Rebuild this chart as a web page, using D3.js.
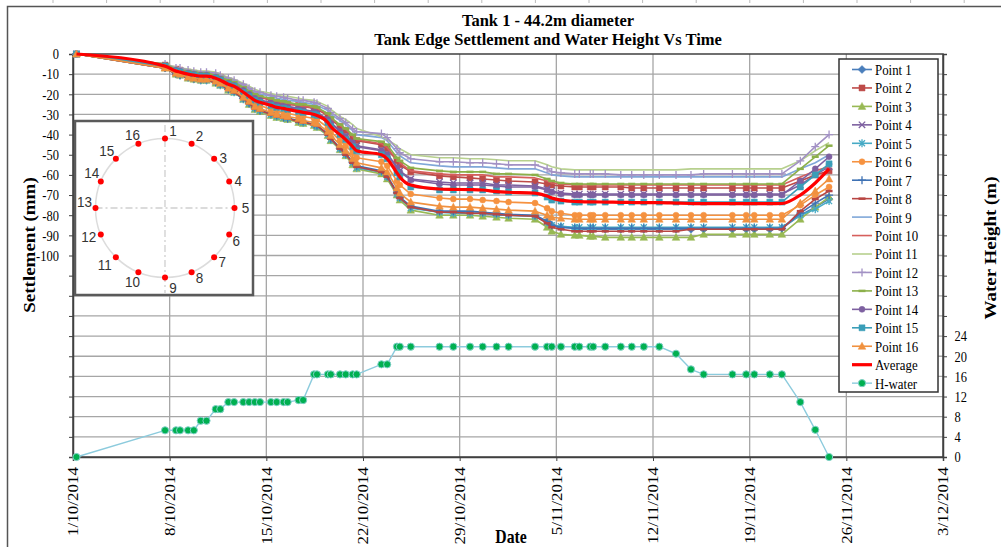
<!DOCTYPE html>
<html>
<head>
<meta charset="utf-8">
<script src="https://cdn.jsdelivr.net/npm/d3@7"></script>
<style>
  body { margin: 0; background: #fff; }
  svg { display: block; }
</style>
</head>
<body>
<svg id="chart" width="1001" height="547"></svg>
<script>
// ---- Survey readings ----
const readingTimes = [
  "2014-10-01 06:00","2014-10-07 16:00","2014-10-08 11:00","2014-10-08 18:00","2014-10-09 08:00",
  "2014-10-09 18:00","2014-10-10 06:00","2014-10-10 16:00","2014-10-11 08:00","2014-10-11 16:00",
  "2014-10-12 06:00","2014-10-12 16:00","2014-10-13 08:00","2014-10-13 18:00","2014-10-14 04:00",
  "2014-10-14 13:00","2014-10-15 08:00","2014-10-15 18:00","2014-10-16 06:00","2014-10-16 13:00",
  "2014-10-17 08:00","2014-10-17 16:00","2014-10-18 11:00","2014-10-18 16:00","2014-10-19 11:00",
  "2014-10-19 16:00","2014-10-20 08:00","2014-10-20 18:00","2014-10-21 06:00","2014-10-21 13:00",
  "2014-10-23 08:00","2014-10-23 18:00","2014-10-24 11:00","2014-10-24 16:00","2014-10-25 11:00",
  "2014-10-27 13:00","2014-10-28 13:00","2014-10-29 18:00","2014-10-30 16:00","2014-10-31 16:00",
  "2014-11-01 13:00","2014-11-03 11:00","2014-11-04 08:00","2014-11-04 16:00","2014-11-05 08:00",
  "2014-11-06 08:00","2014-11-06 16:00","2014-11-07 11:00","2014-11-07 16:00","2014-11-08 13:00",
  "2014-11-09 16:00","2014-11-10 11:00","2014-11-11 08:00","2014-11-12 11:00","2014-11-13 16:00",
  "2014-11-14 18:00","2014-11-15 16:00","2014-11-17 18:00","2014-11-18 18:00","2014-11-19 08:00",
  "2014-11-20 11:00","2014-11-21 08:00","2014-11-22 16:00","2014-11-23 18:00","2014-11-24 18:00"
];

// Water height in the tank (m)
const waterHeight = [
  0, 5.3, 5.3, 5.3, 5.3, 5.3, 7.2, 7.2, 9.5, 9.5,
  10.9, 10.9, 10.9, 10.9, 10.9, 10.9, 10.9, 10.9, 10.9, 10.9,
  11.3, 11.3, 16.4, 16.4, 16.4, 16.4, 16.4, 16.4, 16.4, 16.4,
  18.4, 18.4, 21.9, 21.9, 21.9, 21.9, 21.9, 21.9, 21.9, 21.9,
  21.9, 21.9, 21.9, 21.9, 21.9, 21.9, 21.9, 21.9, 21.9, 21.9,
  21.9, 21.9, 21.9, 21.9, 20.5, 17.4, 16.4, 16.4, 16.4, 16.4,
  16.4, 16.4, 10.9, 5.4, 0
];

// Edge settlement at each survey point (mm)
const point1 = [0,-7,-10,-10.5,-11.5,-12.5,-13,-13,-14,-15,-17.5,-18.5,-22,-24.5,-27,-28,-30,-31,-31.5,-32,-33.5,-34,-35,-35.5,-40,-42,-47,-50,-54,-56,-58.5,-61,-69,-71.5,-76,-78.5,-78.5,-79,-79,-80,-80,-80.5,
  -83,-85,-86,
  -86.5,-87,-87,-87,-87,-87,-87,-87,-87,-87,-87,-87,-87,-87,-87,-87,-86.5,
  -80,-76,-72];
const point2 = [0,-5.5,-7.5,-8,-9,-9.5,-10,-10,-11,-11.5,-13.5,-14.5,-17,-19,-20.5,-21.5,-23,-24,-24.5,-25,-25.5,-26,-27,-27.5,-30.5,-32.5,-36,-38,-41.5,-43,-45,-47,-53,-55,-58.5,-60.5,-61,-61.5,-62,-62.5,-63,-63.5,
  -64.5,-65,-65.5,
  -66,-66,-66,-66,-66,-66,-66.5,-66.5,-66.5,-66.5,-66.5,-66.5,-66.5,-66.5,-66.5,-66.5,-66.5,
  -63,-60,-58];
const point3 = [0,-7,-10,-10.5,-12,-12.5,-13,-13,-14.5,-15.5,-18,-19,-22.5,-25,-27.5,-28.5,-30.5,-31.5,-32,-32.5,-34,-34.5,-35.5,-36.5,-40.5,-43,-47.5,-50.5,-55,-57,-59.5,-62,-70,-72.5,-77.5,-80,-80,-80,-80.5,-81,-81.5,-82,
  -86,-88,-89.5,
  -90,-90,-90.5,-90.5,-91,-91,-91,-91,-91,-91,-91,-89.5,-89.5,-89.5,-89.5,-89.5,-89.5,
  -82,-76,-71];
const point4 = [0,-6,-8,-8.5,-9.5,-10,-10.5,-10.5,-11.5,-12.5,-14,-15,-18,-20,-22,-23,-24,-25,-25.5,-26,-27,-27.5,-28.5,-29,-32.5,-34,-38,-40.5,-43.5,-45.5,-47.5,-49.5,-56,-58,-62,-63.5,-64,-64,-64,-65,-65,-65.5,
  -67,-68,-69,
  -69.5,-69.5,-69.5,-69.5,-69.5,-69.5,-69.5,-69.5,-69.5,-69.5,-69.5,-69.5,-69.5,-69.5,-69.5,-69.5,-69.5,
  -65,-60,-56];
const point5 = [0,-6.5,-9.5,-10.5,-11.5,-12,-13,-13,-14,-15.5,-17.5,-19,-22.5,-24.5,-27,-28,-30,-31,-31.5,-32,-33,-34,-35,-36,-40,-42.5,-47,-50,-54,-56.5,-58.5,-61,-69.5,-71.5,-76.5,-78.5,-79,-79,-79,-79.5,-80,-80.5,
  -83.5,-85,-85.5,
  -86,-86,-86,-86,-86,-86,-86,-86,-86,-86,-86,-86,-86,-86,-86,-86,-86,
  -80,-77,-73];
const point6 = [0,-6.5,-9,-9.5,-10.5,-11,-12,-12,-13,-14,-16,-17,-20.5,-22.5,-24.5,-25.5,-27.5,-28.5,-29,-29.5,-30.5,-31,-32,-32.5,-36.5,-38.5,-43,-45.5,-49,-51.5,-53.5,-55.5,-63,-65,-69.5,-71.5,-72,-72,-72.5,-73,-73.5,-74,
  -76.5,-78,-79,
  -80,-80,-80,-80,-80,-80,-80,-80,-80,-80,-80,-80,-80,-80,-80,-80,-80,
  -75,-70,-66];
const point7 = [0,-7,-9.5,-10.5,-11.5,-12,-12.5,-12.5,-14,-15,-17.5,-18.5,-22,-24.5,-26.5,-28,-29.5,-30.5,-31.5,-32,-33,-33.5,-35,-35.5,-39.5,-42,-46.5,-49.5,-53.5,-55.5,-58,-60.5,-68.5,-71,-75.5,-78,-78,-78,-78.5,-79,-79.5,-80,
  -83,-85,-86,
  -86.5,-86.5,-86.5,-86.5,-86.5,-86.5,-86.5,-86.5,-86.5,-86.5,-86.5,-86.5,-86.5,-86.5,-86.5,-86.5,-86.5,
  -79,-74,-70];
const point8 = [0,-7,-10,-10.5,-11.5,-12,-13,-13,-14,-15,-17.5,-19,-22,-24.5,-27,-28,-30,-31,-31.5,-32,-33.5,-34,-35,-35.5,-40,-42,-47,-50,-54,-56,-58.5,-61,-69,-71.5,-76,-78.5,-78.5,-79,-79,-79.5,-80,-80.5,
  -84,-86,-87,
  -88,-88,-88,-88,-88,-88,-88,-88,-88,-88,-87,-87,-87,-87,-87,-87,-87,
  -78,-72,-68];
const point9 = [0,-5,-7,-7.5,-8.5,-8.5,-9,-9,-10,-11,-12.5,-13.5,-16,-17.5,-19,-20,-21,-22,-22.5,-23,-23.5,-24,-25,-25.5,-28,-30,-33,-35,-38,-40,-41.5,-43,-49,-50.5,-54,-55.5,-56,-56,-56,-56.5,-57,-57,
  -59,-60,-60.5,
  -61,-61,-61,-61,-61,-61,-61,-61,-61,-61,-61,-61,-61,-61,-61,-61,-61,
  -57,-54,-50];
const point10 = [0,-5,-7.5,-8,-9,-9.5,-10,-10,-10.5,-11.5,-13.5,-14,-17,-18.5,-20.5,-21.5,-22.5,-23.5,-24,-24.5,-25.5,-26,-26.5,-27,-30,-32,-35.5,-37.5,-41,-42.5,-44.5,-46.5,-52.5,-54,-58,-59.5,-60,-60,-60,-61,-61,-61.5,
  -63,-64,-64.5,
  -65,-65,-65,-65,-65,-65,-65,-65,-65,-65,-65,-65,-65,-65,-65,-65,-65,
  -61,-58,-56];
const point11 = [0,-5,-6.5,-7,-7.5,-8,-8.5,-8.5,-9,-10,-11.5,-12.5,-14.5,-16,-17.5,-18.5,-19.5,-20.5,-21,-21,-22,-22.5,-23,-23.5,-26,-27.5,-31,-32.5,-35,-37,-41,-42.5,-45.5,-47,-50,-51.5,-51.5,-52,-52,-52.5,-53,-53,
  -55,-56,-57,
  -57.5,-57.5,-57.5,-57.5,-57.5,-57.5,-57.5,-57.5,-57.5,-57.5,-57,-57,-57,-57,-57,-57,-57,
  -53,-48,-44];
const point12 = [0,-5,-7,-7,-8,-8.5,-9,-9,-9.5,-10.5,-12,-13,-15,-17,-18.5,-19,-20.5,-21,-21.5,-22,-23,-23,-24,-24.5,-27,-29,-32,-34,-37,-38.5,-39.5,-41.5,-47,-49,-52,-53.5,-53.5,-54,-54,-54.5,-55,-55,
  -57,-58.5,-59,
  -59.5,-59.5,-59.5,-59.5,-59.5,-60,-60,-60,-60,-60,-60,-59.5,-59.5,-59.5,-59.5,-59.5,-59.5,
  -53,-46,-40];
const point13 = [0,-5,-7.5,-8,-8.5,-9,-9.5,-9.5,-10.5,-11.5,-13,-14,-16.5,-18.5,-20,-21,-22,-23,-23.5,-24,-25,-25,-26,-26.5,-29.5,-31.5,-35,-37,-40,-42,-43.5,-45,-51.5,-53,-56.5,-58,-58.5,-58.5,-58.5,-59.5,-59.5,-60,
  -62,-63,-64,
  -64.5,-64.5,-64.5,-64.5,-64.5,-64.5,-64.5,-64.5,-64.5,-64.5,-64.5,-64.5,-64.5,-64.5,-64.5,-64.5,-64.5,
  -57,-51,-45.5];
const point14 = [0,-6,-8,-8.5,-9.5,-10,-10.5,-10.5,-11.5,-12.5,-14.5,-15.5,-18,-20,-22,-23,-24.5,-25.5,-26,-26.5,-27.5,-28,-29,-29.5,-32.5,-34.5,-38.5,-41,-44,-46,-48,-50,-56.5,-58.5,-62.5,-64.5,-65,-65,-65,-65.5,-66,-66,
  -67.5,-68.5,-69.5,
  -70,-70,-70,-70,-70,-70,-70,-70,-70,-70,-70,-70,-70,-70,-70,-70,-70,
  -63,-57,-51];
const point15 = [0,-6,-8.5,-9,-10,-10.5,-11,-11,-12,-13,-15,-16,-19,-21,-23,-24,-25.5,-26.5,-27,-27.5,-28.5,-29,-30,-30.5,-34,-36,-40,-42.5,-46,-48,-50,-52,-59,-61,-66,-67.5,-67.5,-67.5,-67.5,-68,-68.5,-69,
  -71,-72.5,-73,
  -73.5,-73.5,-73.5,-73.5,-73.5,-73.5,-73.5,-73.5,-73.5,-73.5,-73.5,-73.5,-73.5,-73.5,-73.5,-73.5,-73.5,
  -66,-60,-54.5];
const point16 = [0,-7,-9.5,-10,-11.5,-12,-12.5,-12.5,-13.5,-14.5,-17,-18,-21.5,-23.5,-26,-27,-29,-30,-30.5,-31,-32,-33,-34,-34.5,-38.5,-40.5,-45,-48,-52,-54,-56.5,-58.5,-66.5,-69,-73.5,-75.5,-76,-76,-76.5,-77,-77.5,-78,
  -80,-81,-81.5,
  -82,-82,-82,-82,-82,-82,-82,-82,-82,-82,-82,-82,-82,-82,-82,-82,-82,
  -74,-68,-62];
const averageSettlement = [
  0,-6,-8.5,-9,-10,-10.5,-11,-11,-12,-13,
  -15,-16,-19,-21,-23,-24,-25.5,-26.5,-27,-27.5,
  -28.5,-29,-30,-30.5,-34,-36,-40,-42.5,-46,-48,
  -50,-52,-59,-61,-65,-67,-67.2,-67.3,-67.5,-68.3,
  -68.6,-69,-70.5,-71.5,-72.5,-73.2,-73.3,-73.4,-73.4,-73.5,
  -73.6,-73.7,-73.8,-73.8,-74,-74.2,-74.3,-74.3,-74.3,-74.3,
  -74.3,-74.2,-70,-64,-57
];

// Axis labels
const settlementTickLabels = [0,-10,-20,-30,-40,-50,-60,-70,-80,-90,-100];
const waterTickLabels = [0,4,8,12,16,20,24];
const dateTickLabels = ["1/10/2014","8/10/2014","15/10/2014","22/10/2014","29/10/2014",
  "5/11/2014","12/11/2014","19/11/2014","26/11/2014","3/12/2014"];
const gaugeNumbers = [1,2,3,4,5,6,7,8,9,10,11,12,13,14,15,16];

// ---- Drawing ----
const svg = d3.select("#chart");
const SQ = 0.83;                      // horizontal text compression
const SERIF = "'Liberation Serif','Times New Roman',serif";
const SANS = "'Liberation Sans',Arial,sans-serif";

const parseTime = d3.timeParse("%Y-%m-%d %H:%M");
const parseDay = d3.timeParse("%d/%m/%Y");
const times = readingTimes.map(parseTime);
const dateTicks = dateTickLabels.map(parseDay);

const plot = {left: 73, right: 943, top: 54, bottom: 457};
const x = d3.scaleTime().domain([dateTicks[0], dateTicks[dateTicks.length - 1]]).range([plot.left, plot.right]);
const yL = d3.scaleLinear().domain([-200, 0]).range([plot.bottom, plot.top]);
const yR = d3.scaleLinear().domain([0, 80]).range([plot.bottom, plot.top]);

function label(parent, px, py, str, o) {
  const t = parent.append("text")
    .attr("transform", `translate(${px},${py}) scale(${o.sq ?? SQ},1)` + (o.rot ? ` rotate(${o.rot})` : ""))
    .attr("font-family", o.family || SERIF)
    .attr("font-size", o.size || 15)
    .attr("font-weight", o.weight || "normal")
    .attr("text-anchor", o.anchor || "start")
    .attr("fill", o.fill || "#000")
    .text(str);
  if (o.dy) t.attr("dy", o.dy);
  return t;
}

// Outer frame
svg.append("rect").attr("x", 0).attr("y", 0).attr("width", 1001).attr("height", 547).attr("fill", "#fff");
const frame = svg.append("g").attr("stroke", "#555").attr("fill", "none");
frame.append("path").attr("d", "M7.5,547V6.5H1001").attr("stroke-width", 1.5);
for (let tx = 53; tx < 1001; tx += 53.6) frame.append("line").attr("x1", tx).attr("x2", tx).attr("y1", 0).attr("y2", 3).attr("stroke", "#bbb");

// Titles
label(svg, 548, 26, "Tank 1 - 44.2m diameter", {size: 16.5, weight: "bold", anchor: "middle", sq: 1});
label(svg, 548, 45, "Tank Edge Settlement and Water Height Vs Time", {size: 16.5, weight: "bold", anchor: "middle", sq: 1});

// Gridlines
const grid = svg.append("g").attr("stroke", "#a6a6a6").attr("stroke-width", 1.3);
grid.selectAll("line.h").data(d3.range(-190, 0, 10)).join("line")
  .attr("x1", plot.left).attr("x2", plot.right)
  .attr("y1", d => yL(d)).attr("y2", d => yL(d));
grid.selectAll("line.v").data(dateTicks.slice(1, -1)).join("line")
  .attr("x1", d => x(d)).attr("x2", d => x(d))
  .attr("y1", plot.top).attr("y2", plot.bottom);

// Plot border
svg.append("rect").attr("x", plot.left).attr("y", plot.top)
  .attr("width", plot.right - plot.left).attr("height", plot.bottom - plot.top)
  .attr("fill", "none").attr("stroke", "#404040").attr("stroke-width", 1.5);

// Axes
function styleAxis(g) {
  g.select(".domain").attr("stroke", "#404040").attr("stroke-width", 1.5);
  g.selectAll(".tick line").attr("stroke", "#404040").attr("stroke-width", 1);
  g.selectAll(".tick text").attr("font-family", SERIF).attr("fill", "#000");
}

const leftAxis = svg.append("g").attr("transform", `translate(${plot.left},0)`)
  .call(d3.axisLeft(yL).tickValues(d3.range(-200, 1, 10)).tickSize(4)
    .tickFormat(d => settlementTickLabels.includes(d) ? String(d) : ""));
styleAxis(leftAxis);
leftAxis.selectAll(".tick text").attr("font-size", 15).attr("x", -17)
  .attr("transform", `scale(${SQ},1)`);

const rightAxis = svg.append("g").attr("transform", `translate(${plot.right},0)`)
  .call(d3.axisRight(yR).tickValues(d3.range(0, 81, 4)).tickSize(4)
    .tickFormat(d => waterTickLabels.includes(d) ? String(d) : ""));
styleAxis(rightAxis);
rightAxis.selectAll(".tick text").attr("font-size", 15).attr("x", 14)
  .attr("transform", `scale(${SQ},1)`);

const bottomAxis = svg.append("g").attr("transform", `translate(0,${plot.bottom})`)
  .call(d3.axisBottom(x).tickValues(dateTicks).tickSize(4)
    .tickFormat((d, i) => dateTickLabels[i]));
styleAxis(bottomAxis);
bottomAxis.selectAll(".tick text").attr("font-size", 17)
  .attr("text-anchor", "end").attr("x", 0).attr("y", 0).attr("dy", "0.35em")
  .attr("transform", `translate(0,10) scale(${SQ},1) rotate(-90)`);

// Axis titles
label(svg, 29, 245, "Settlement (mm)", {size: 19, weight: "bold", anchor: "middle", rot: -90, dy: "0.35em"});
label(svg, 990, 248, "Water Height (m)", {size: 19, weight: "bold", anchor: "middle", rot: -90, dy: "0.35em"});
label(svg, 511, 543, "Date", {size: 19, weight: "bold", anchor: "middle"});

// Marker shapes
const circlePath = r => `M${r},0A${r},${r},0,1,1,${-r},0A${r},${r},0,1,1,${r},0Z`;
const markerShapes = {
  diamond:  {d: "M0,-4L4,0L0,4L-4,0Z", fill: true},
  square:   {d: "M-3,-3H3V3H-3Z", fill: true},
  triangle: {d: "M0,-4L3.8,3L-3.8,3Z", fill: true},
  cross:    {d: "M-3.2,-3.2L3.2,3.2M-3.2,3.2L3.2,-3.2", fill: false, w: 1.3},
  star:     {d: "M-3,-3L3,3M-3,3L3,-3M0,-4V4", fill: false, w: 1.3},
  circle:   {d: circlePath(3), fill: true},
  plus:     {d: "M-4,0H4M0,-4V4", fill: false, w: 1.3},
  dash:     {d: "M-3.5,0H3.5", fill: false, w: 2.5},
  dot:      {d: circlePath(3.6), fill: true}
};
function drawMarker(g, type, color, stroke) {
  const m = markerShapes[type];
  if (!m) return;
  g.append("path").attr("d", m.d)
    .attr("fill", m.fill ? color : "none")
    .attr("stroke", m.fill ? (stroke || color) : color)
    .attr("stroke-width", m.fill ? (stroke ? 1 : 0.5) : m.w);
}

const settlementSeries = [
  {name: "Point 1",  values: point1,  color: "#4a7ebb", marker: "diamond"},
  {name: "Point 2",  values: point2,  color: "#be4b48", marker: "square"},
  {name: "Point 3",  values: point3,  color: "#98b954", marker: "triangle"},
  {name: "Point 4",  values: point4,  color: "#7d60a0", marker: "cross"},
  {name: "Point 5",  values: point5,  color: "#46aac5", marker: "star"},
  {name: "Point 6",  values: point6,  color: "#f69240", marker: "circle"},
  {name: "Point 7",  values: point7,  color: "#3f72b4", marker: "plus"},
  {name: "Point 8",  values: point8,  color: "#b84542", marker: "dash"},
  {name: "Point 9",  values: point9,  color: "#7fa7d8", marker: "none"},
  {name: "Point 10", values: point10, color: "#d65f5c", marker: "none"},
  {name: "Point 11", values: point11, color: "#b7d08e", marker: "none"},
  {name: "Point 12", values: point12, color: "#a291c4", marker: "plus"},
  {name: "Point 13", values: point13, color: "#8cb04a", marker: "dash"},
  {name: "Point 14", values: point14, color: "#7d60a0", marker: "circle"},
  {name: "Point 15", values: point15, color: "#3a9eb8", marker: "square"},
  {name: "Point 16", values: point16, color: "#f0913f", marker: "triangle"}
];

const series = svg.append("g");
const line = d3.line().x((d, i) => x(times[i])).y(d => yL(d));
settlementSeries.forEach(s => {
  const g = series.append("g");
  g.append("path").datum(s.values).attr("d", line)
    .attr("fill", "none").attr("stroke", s.color).attr("stroke-width", 1.6)
    .attr("stroke-linejoin", "round");
  if (s.marker !== "none") {
    s.values.forEach((v, i) => {
      drawMarker(g.append("g").attr("transform", `translate(${x(times[i])},${yL(v)})`), s.marker, s.color);
    });
  }
});

// Average settlement
series.append("path").datum(averageSettlement)
  .attr("d", d3.line().x((d, i) => x(times[i])).y(d => yL(d)).curve(d3.curveMonotoneX))
  .attr("fill", "none").attr("stroke", "#ff0000").attr("stroke-width", 3.2);

// Water height (secondary axis)
const waterG = svg.append("g");
waterG.append("path").datum(waterHeight)
  .attr("d", d3.line().x((d, i) => x(times[i])).y(d => yR(d)))
  .attr("fill", "none").attr("stroke", "#8ccbdd").attr("stroke-width", 1.4)
  .attr("stroke-linejoin", "round");
waterHeight.forEach((v, i) => {
  drawMarker(waterG.append("g").attr("transform", `translate(${x(times[i])},${yR(v)})`), "dot", "#00b050", "#7fd0c8");
});

// Gauge layout inset
const inset = svg.append("g");
inset.append("rect").attr("x", 75).attr("y", 121).attr("width", 178).attr("height", 174)
  .attr("fill", "#fff").attr("stroke", "#5a5a5a").attr("stroke-width", 2.5);
const cx = 165, cy = 208, r = 69.5;
inset.append("line").attr("x1", cx).attr("x2", cx).attr("y1", 125).attr("y2", 293)
  .attr("stroke", "#cfcfcf").attr("stroke-width", 1.3).attr("stroke-dasharray", "7,3,2,3");
inset.append("line").attr("x1", cx - r).attr("x2", cx + r).attr("y1", cy).attr("y2", cy)
  .attr("stroke", "#cfcfcf").attr("stroke-width", 1.3).attr("stroke-dasharray", "7,3,2,3");
inset.append("circle").attr("cx", cx).attr("cy", cy).attr("r", r)
  .attr("fill", "none").attr("stroke", "#dcdcdc").attr("stroke-width", 1.5);
// label nudges relative to each gauge point
const labelNudge = [[8,-8],[8,-8],[9,-1],[9,-1],[11,0],[7,6],[8,5],[8,6],[8,10],[-6,10],[-11,8],[-12,2],[-11,-6],[-9,-9],[-9,-8],[-6,-9]];
gaugeNumbers.forEach((n, i) => {
  const a = (n - 1) * Math.PI / 8;
  const px = cx + r * Math.sin(a), py = cy - r * Math.cos(a);
  inset.append("circle").attr("cx", px).attr("cy", py).attr("r", 3).attr("fill", "#ff0000");
  label(inset, px + labelNudge[i][0], py + labelNudge[i][1], String(n),
    {family: SANS, size: 15, anchor: "middle", dy: "0.35em", fill: "#333", sq: 0.9});
});

// Legend
const legendItems = settlementSeries.map(s => ({name: s.name, color: s.color, marker: s.marker, width: 1.6}))
  .concat([{name: "Average", color: "#ff0000", marker: "none", width: 3.2},
           {name: "H-water", color: "#8ccbdd", marker: "dot", width: 1.4, mColor: "#00b050", mStroke: "#7fd0c8"}]);
const legend = svg.append("g");
legend.append("rect").attr("x", 839).attr("y", 59).attr("width", 99).attr("height", 333)
  .attr("fill", "#fff").attr("stroke", "#333").attr("stroke-width", 1.5);
legendItems.forEach((it, i) => {
  const ly = 69.5 + i * 18.45;
  const g = legend.append("g");
  g.append("line").attr("x1", 852).attr("x2", 872).attr("y1", ly).attr("y2", ly)
    .attr("stroke", it.color).attr("stroke-width", it.width);
  drawMarker(g.append("g").attr("transform", `translate(862,${ly})`), it.marker, it.mColor || it.color, it.mStroke);
  label(g, 875, ly, it.name, {size: 15.5, dy: "0.35em"});
});
</script>
</body>
</html>
